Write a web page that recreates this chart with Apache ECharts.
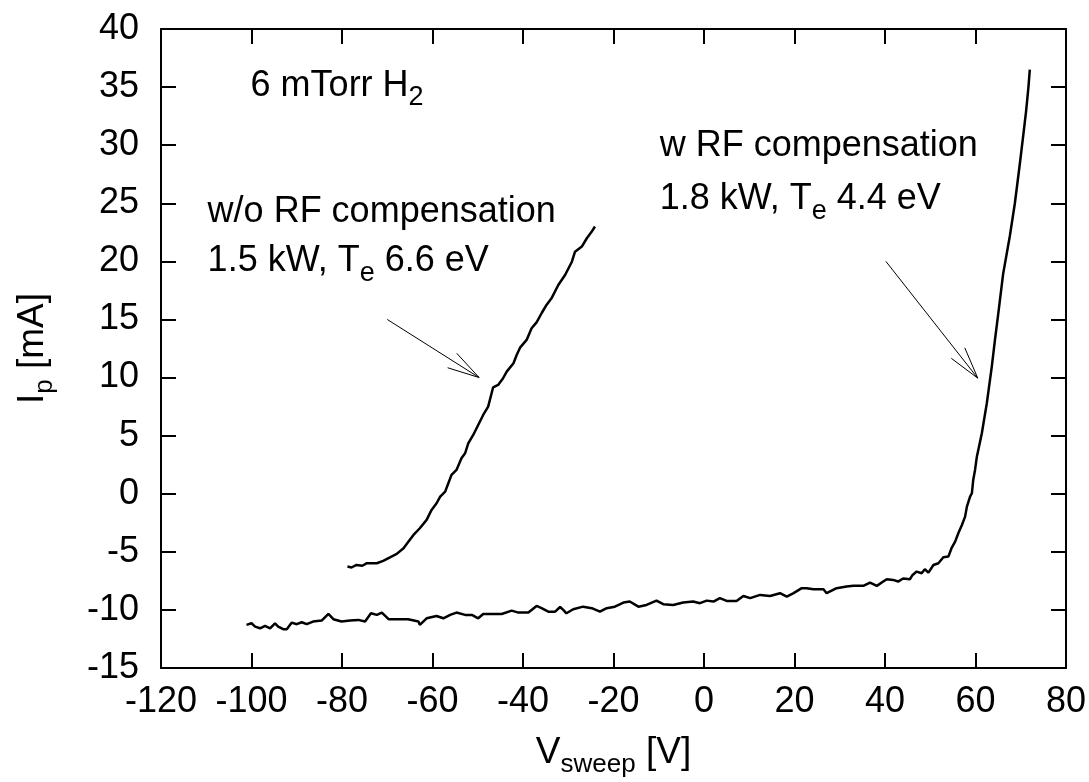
<!DOCTYPE html>
<html>
<head>
<meta charset="utf-8">
<title>Langmuir probe I-V characteristics</title>
<script src="https://cdn.jsdelivr.net/npm/echarts@6/dist/echarts.min.js"></script>
<style>
  html, body { margin: 0; padding: 0; background: #fff; }
  #chart { width: 1089px; height: 782px; }
</style>
</head>
<body>
<div id="chart"></div>
<script>
// Probe sweep voltage [V] and probe current [mA], without RF compensation (1.5 kW)
const woVoltage = [-78.8, -77.9, -76.8, -75.5, -74.5, -72.3, -70.9, -69.4, -67.9, -66.4,
  -65.3, -64.2, -62.8, -61.3, -60.2, -59.1, -58.3, -57.2, -56.5, -55.8,
  -54.7, -53.6, -52.8, -52.1, -51.0, -49.9, -48.8, -47.7, -46.6, -45.5,
  -44.4, -43.6, -42.1, -41.4, -40.6, -39.2, -38.1, -37.0, -35.8, -34.8,
  -33.7, -32.2, -30.7, -29.2, -28.5, -27.0, -25.9, -24.8, -24.1];
const woCurrent = [-6.27, -6.35, -6.13, -6.2, -5.98, -5.98, -5.78, -5.47, -5.18, -4.69,
  -4.12, -3.55, -2.97, -2.25, -1.39, -0.82, -0.25, 0.18, 0.90, 1.62,
  2.05, 3.05, 3.48, 4.34, 5.06, 5.92, 6.78, 7.50, 9.16, 9.36,
  9.94, 10.51, 11.23, 11.94, 12.6, 13.24, 14.24, 14.75, 15.6, 16.25,
  16.82, 17.97, 18.83, 19.97, 20.83, 21.27, 21.99, 22.56, 23.0];

// Probe sweep voltage [V] and probe current [mA], with RF compensation (1.8 kW)
const wVoltage = [-101.1, -100.0, -99.2, -98.1, -97.0, -95.9, -94.8, -94.1, -93.0, -92.2,
  -91.1, -90.0, -88.9, -87.8, -86.4, -84.5, -83.0, -81.9, -80.1, -78.2,
  -76.4, -74.9, -73.6, -72.3, -71.2, -69.7, -67.6, -65.4, -63.1, -62.8,
  -61.3, -59.1, -57.6, -56.1, -54.7, -52.8, -51.3, -49.9, -48.8, -46.9,
  -44.7, -42.5, -41.0, -38.8, -37.0, -35.9, -34.4, -32.9, -31.8, -31.1,
  -30.4, -28.9, -26.7, -24.8, -23.0, -21.5, -19.7, -17.8, -16.4, -14.5,
  -12.7, -10.5, -9.0, -6.8, -4.6, -2.4, -0.9, 0.6, 2.1, 3.5,
  5.0, 7.2, 8.7, 10.2, 12.4, 14.6, 16.8, 18.3, 19.8, 21.6,
  22.7, 24.2, 26.4, 27.1, 29.3, 31.5, 33.0, 35.2, 36.7, 38.2,
  39.6, 40.4, 41.8, 42.9, 44.0, 45.5, 46.1, 47.0, 48.1, 48.8,
  49.6, 50.7, 51.8, 52.9, 54.0, 54.7, 55.5, 56.2, 57.0, 57.7,
  58.1, 58.8, 59.2, 59.5, 59.9, 60.3, 61.4, 62.5, 63.6, 64.3,
  65.0, 66.1, 67.6, 68.7, 69.8, 70.6, 71.2, 71.7, 72.0];
const wCurrent = [-11.29, -11.15, -11.44, -11.58, -11.38, -11.58, -11.15, -11.44, -11.66, -11.66,
  -11.09, -11.23, -11.06, -11.23, -11.0, -10.92, -10.35, -10.80, -11.0, -10.92,
  -10.86, -11.0, -10.29, -10.43, -10.23, -10.8, -10.8, -10.8, -11.0, -11.29,
  -10.72, -10.52, -10.72, -10.43, -10.23, -10.43, -10.43, -10.72, -10.35, -10.35,
  -10.35, -10.06, -10.23, -10.23, -9.66, -9.85, -10.15, -10.15, -9.75, -10.0,
  -10.29, -9.94, -9.72, -9.85, -10.15, -9.85, -9.72, -9.37, -9.28, -9.72,
  -9.57, -9.2, -9.51, -9.57, -9.37, -9.28, -9.42, -9.20, -9.28, -8.99,
  -9.23, -9.23, -8.80, -8.99, -8.71, -8.80, -8.56, -8.85, -8.56, -8.13,
  -8.13, -8.22, -8.22, -8.56, -8.13, -7.99, -7.93, -7.93, -7.65, -7.93,
  -7.56, -7.36, -7.42, -7.56, -7.30, -7.36, -6.99, -6.70, -6.84, -6.50,
  -6.79, -6.13, -5.98, -5.47, -5.41, -4.69, -4.12, -3.40, -2.69, -1.97,
  -1.11, -0.25, 0.04, 1.19, 2.05, 3.19, 5.21, 7.79, 10.94, 13.24,
  15.4, 18.9, 22.2, 25.0, 28.4, 31.0, 33.0, 35.0, 36.5];

// Axis ticks
const xTicks = { min: -120, max: 80, step: 20 };
const yTicks = { min: -15, max: 40, step: 5 };

// Annotation texts (rich-text markup) and their anchors in data units [V, mA]
const noteTexts = [
  '{m|6 mTorr H}{s|2}',
  '{m|w/o RF compensation}',
  '{m|1.5 kW, T}{s|e}{m| 6.6 eV}',
  '{m|w RF compensation}',
  '{m|1.8 kW, T}{s|e}{m| 4.4 eV}'
];
const noteAnchors = [[-100.2, 35.1], [-109.7, 24.2], [-109.7, 20.0], [-9.8, 29.9], [-9.8, 25.35]];

// Arrows: [fromV, fromI, toV, toI]
const arrowData = [
  [-70, 15.0, -49.7, 10.0],
  [40.2, 20.0, 60.5, 9.95]
];

const FONT = 'Liberation Sans, Arial, sans-serif';
const pair = (xs, ys) => xs.map((x, i) => [x, ys[i]]);

const richNote = {
  m: { fontFamily: FONT, fontSize: 36, lineHeight: 38, color: '#000' },
  s: { fontFamily: FONT, fontSize: 27, lineHeight: 38, color: '#000', padding: [24, 0, 0, 0] }
};
const richName = {
  a: { fontFamily: FONT, fontSize: 37, lineHeight: 40, color: '#000' },
  b: { fontFamily: FONT, fontSize: 26, lineHeight: 40, color: '#000', padding: [24, 0, 0, 0] }
};

const frameLine = { show: true, onZero: false, lineStyle: { color: '#000', width: 2 } };
const innerTick = { show: true, inside: true, length: 15, lineStyle: { color: '#000', width: 2 } };
const tickLabel = { fontFamily: FONT, fontSize: 36, color: '#000' };

const chart = echarts.init(document.getElementById('chart'), null, { renderer: 'canvas' });

chart.setOption({
  animation: false,
  backgroundColor: '#fff',
  textStyle: { fontFamily: FONT },
  grid: { left: 161, right: 23, top: 29, bottom: 114, containLabel: false, outerBoundsMode: 'none' },
  xAxis: [
    {
      type: 'value', position: 'bottom',
      min: xTicks.min, max: xTicks.max, interval: xTicks.step,
      axisLine: frameLine, axisTick: innerTick, splitLine: { show: false },
      axisLabel: Object.assign({ margin: 16 }, tickLabel),
      name: '{a|V}{b|sweep}{a| [V]}',
      nameLocation: 'middle', nameGap: 65,
      nameTextStyle: { rich: richName }
    },
    {
      type: 'value', position: 'top',
      min: xTicks.min, max: xTicks.max, interval: xTicks.step,
      axisLine: frameLine, axisTick: innerTick, splitLine: { show: false },
      axisLabel: { show: false }
    }
  ],
  yAxis: [
    {
      type: 'value', position: 'left',
      min: yTicks.min, max: yTicks.max, interval: yTicks.step,
      axisLine: frameLine, axisTick: innerTick, splitLine: { show: false },
      axisLabel: Object.assign({ margin: 22 }, tickLabel),
      name: '{a|I}{b|p}{a| [mA]}',
      nameLocation: 'middle', nameGap: 108,
      nameTextStyle: { rich: richName }
    },
    {
      type: 'value', position: 'right',
      min: yTicks.min, max: yTicks.max, interval: yTicks.step,
      axisLine: frameLine, axisTick: innerTick, splitLine: { show: false },
      axisLabel: { show: false }
    }
  ],
  series: [
    {
      name: 'w/o RF compensation', type: 'line',
      data: pair(woVoltage, woCurrent),
      showSymbol: false, symbol: 'none',
      lineStyle: { color: '#000', width: 2.5 }, z: 3
    },
    {
      name: 'w RF compensation', type: 'line',
      data: pair(wVoltage, wCurrent),
      showSymbol: false, symbol: 'none',
      lineStyle: { color: '#000', width: 2.5 }, z: 3
    },
    {
      // Pointer arrows with open heads
      type: 'custom', clip: false, silent: true,
      data: arrowData,
      encode: { x: [0, 2], y: [1, 3] },
      renderItem: function (params, api) {
        const p0 = api.coord([api.value(0), api.value(1)]);
        const p1 = api.coord([api.value(2), api.value(3)]);
        const ang = Math.atan2(p1[1] - p0[1], p1[0] - p0[0]);
        const len = 33, half = 15 * Math.PI / 180;
        const h1 = [p1[0] - len * Math.cos(ang - half), p1[1] - len * Math.sin(ang - half)];
        const h2 = [p1[0] - len * Math.cos(ang + half), p1[1] - len * Math.sin(ang + half)];
        return {
          type: 'group',
          children: [
            { type: 'line', shape: { x1: p0[0], y1: p0[1], x2: p1[0], y2: p1[1] },
              style: { stroke: '#000', lineWidth: 1 } },
            { type: 'polyline', shape: { points: [h1, p1, h2] },
              style: { stroke: '#000', lineWidth: 1, fill: null } }
          ]
        };
      }
    },
    {
      // Text annotations anchored in data coordinates
      type: 'custom', clip: false, silent: true,
      data: noteAnchors,
      encode: { x: 0, y: 1 },
      renderItem: function (params, api) {
        const p = api.coord([api.value(0), api.value(1)]);
        return {
          type: 'text', x: p[0], y: p[1],
          style: {
            text: noteTexts[params.dataIndex],
            rich: richNote,
            align: 'left', verticalAlign: 'middle',
            fill: '#000'
          }
        };
      }
    }
  ]
});
</script>
</body>
</html>
